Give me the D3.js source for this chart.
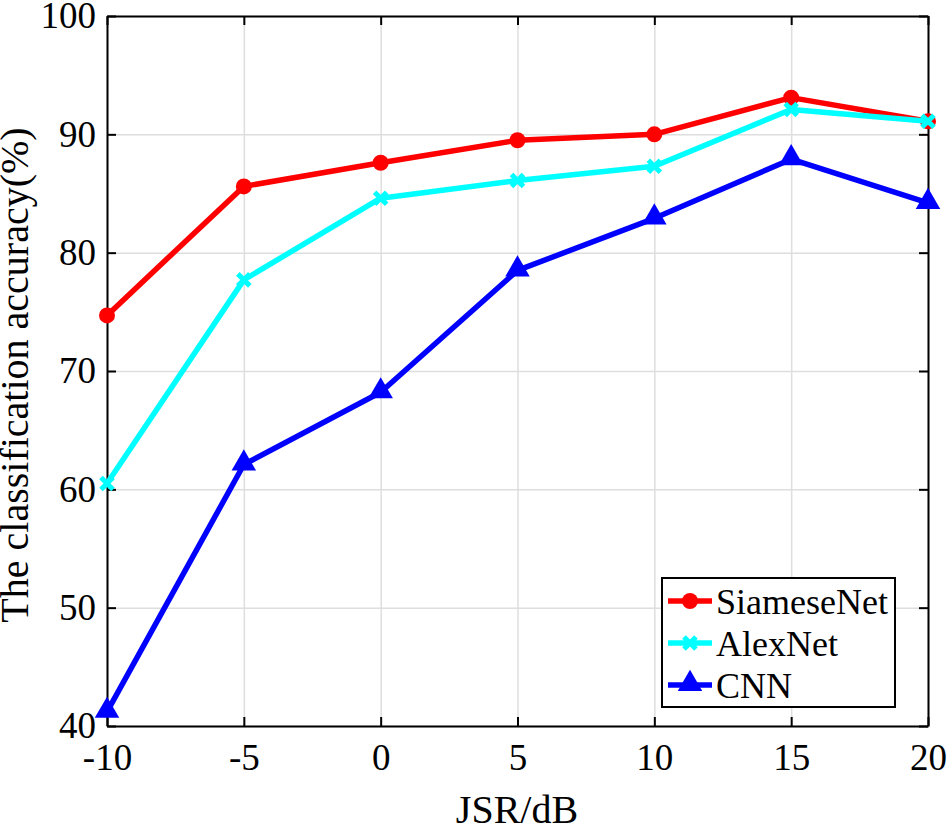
<!DOCTYPE html>
<html>
<head>
<meta charset="utf-8">
<script src="https://cdn.jsdelivr.net/npm/d3@7"></script>
<style>
    body{margin:0;background:#fff;}
    text{font-family:"Liberation Serif","Times New Roman",serif;fill:#000;}
    .grid line{stroke:#dedede;stroke-width:1.5;}
    .grid path{display:none;}
</style>
</head>
<body>
<script>
var jsr=[-10,-5,0,5,10,15,20];
var siamese=[74.7,85.6,87.6,89.5,90.0,93.1,91.1];
var alexnet=[60.5,77.7,84.6,86.1,87.3,92.1,91.1];
var cnn=[41.2,62.1,68.2,78.5,82.9,87.9,84.2];
var yTicks=[40,50,60,70,80,90,100];
var names=['SiameseNet','AlexNet','CNN'];

var W=952,H=828;
var pLeft=107,pRight=928,pTop=16,pBottom=726;

var svg=d3.select('body').append('svg').attr('width',W).attr('height',H);

var x=d3.scaleLinear().domain([-10,20]).range([pLeft,pRight]);
var y=d3.scaleLinear().domain([40,100]).range([pBottom,pTop]);

// grid
svg.append('g').attr('class','grid').attr('transform','translate(0,'+pBottom+')')
    .call(d3.axisBottom(x).tickValues(jsr).tickSize(-(pBottom-pTop)).tickFormat(''));
svg.append('g').attr('class','grid').attr('transform','translate('+pLeft+',0)')
    .call(d3.axisLeft(y).tickValues(yTicks).tickSize(-(pRight-pLeft)).tickFormat(''));

// axes with inward ticks
function styleAxis(g){
    g.selectAll('path').attr('stroke','#000').attr('stroke-width',2);
    g.selectAll('line').attr('stroke','#000').attr('stroke-width',2);
    g.selectAll('text').style('font-size','37px').attr('fill','#000');
}
var fmt=function(d){return String(d);};
var xb=svg.append('g').attr('transform','translate(0,'+pBottom+')')
    .call(d3.axisBottom(x).tickValues(jsr).tickSizeInner(-9).tickSizeOuter(0).tickFormat(fmt));
styleAxis(xb);
xb.selectAll('text').attr('y',44).attr('dy',0);
var xt=svg.append('g').attr('transform','translate(0,'+pTop+')')
    .call(d3.axisTop(x).tickValues(jsr).tickSizeInner(-9).tickSizeOuter(0).tickFormat(''));
styleAxis(xt);
var yl=svg.append('g').attr('transform','translate('+pLeft+',0)')
    .call(d3.axisLeft(y).tickValues(yTicks).tickSizeInner(-9).tickSizeOuter(0).tickFormat(fmt));
styleAxis(yl);
yl.selectAll('text').attr('x',-11);
var yr=svg.append('g').attr('transform','translate('+pRight+',0)')
    .call(d3.axisRight(y).tickValues(yTicks).tickSizeInner(-9).tickSizeOuter(0).tickFormat(''));
styleAxis(yr);

// labels
svg.append('text').attr('x',517).attr('y',823).attr('text-anchor','middle')
    .style('font-size','40px').text('JSR/dB');
svg.append('text').attr('transform','translate(28,375) rotate(-90)').attr('text-anchor','middle')
    .style('font-size','40px').text('The classification accuracy(%)');

var series=[
    {name:names[0],vals:siamese,color:'#ff0000',marker:'circle'},
    {name:names[1],vals:alexnet,color:'#00ffff',marker:'x'},
    {name:names[2],vals:cnn,color:'#0000ff',marker:'tri'}
];

var line=d3.line().x(function(d,i){return x(jsr[i]);}).y(function(d){return y(d);});

function drawMarker(g,type,color,cx,cy){
    if(type=='circle'){
        g.append('circle').attr('cx',cx).attr('cy',cy).attr('r',8).attr('fill',color);
    }else if(type=='x'){
        g.append('path').attr('d','M'+(cx-6)+','+(cy-6)+'L'+(cx+6)+','+(cy+6)+'M'+(cx-6)+','+(cy+6)+'L'+(cx+6)+','+(cy-6))
            .attr('stroke',color).attr('stroke-width',5).attr('fill','none');
    }else{
        g.append('path').attr('d',d3.symbol().type(d3.symbolTriangle).size(260)())
            .attr('transform','translate('+cx+','+(cy-1)+')').attr('fill',color);
    }
}

series.forEach(function(s){
    var g=svg.append('g');
    g.append('path').datum(s.vals).attr('d',line).attr('fill','none')
        .attr('stroke',s.color).attr('stroke-width',5.5).attr('stroke-linejoin','round');
    s.vals.forEach(function(v,i){drawMarker(g,s.marker,s.color,x(jsr[i]),y(v));});
});

// legend
var lg=svg.append('g');
lg.append('rect').attr('x',662).attr('y',578).attr('width',233).attr('height',129)
    .attr('fill','#fff').attr('stroke','#000').attr('stroke-width',2);
series.forEach(function(s,i){
    var ly=601+i*42;
    lg.append('line').attr('x1',668).attr('x2',712).attr('y1',ly).attr('y2',ly)
        .attr('stroke',s.color).attr('stroke-width',5.5);
    drawMarker(lg,s.marker,s.color,690,ly);
    lg.append('text').attr('x',716).attr('y',ly+13).style('font-size','36px').text(s.name);
});
</script>
</body>
</html>
